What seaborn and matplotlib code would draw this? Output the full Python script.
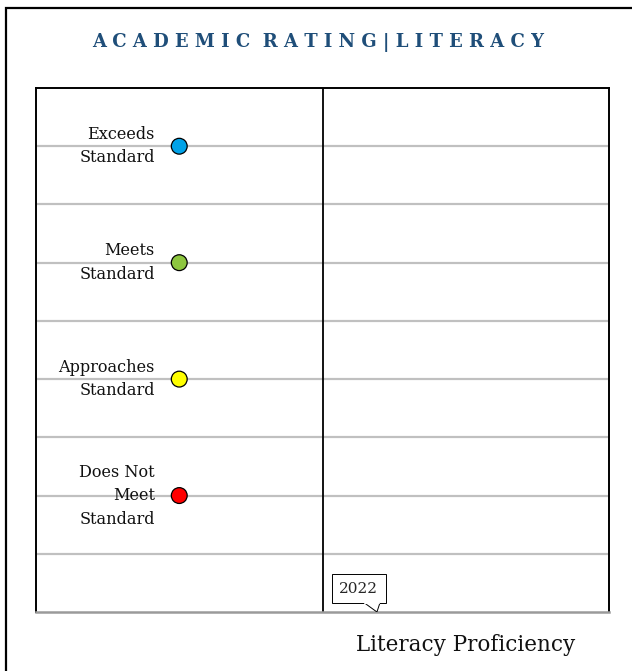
import matplotlib
matplotlib.use("Agg")
import matplotlib.pyplot as plt
from matplotlib.patches import Rectangle, Polygon
import seaborn as sns
import pandas as pd

# rating levels and where they sit on the scale
ratings = ["Exceeds\nStandard", "Meets\nStandard", "Approaches\nStandard", "Does Not\nMeet\nStandard"]
rating_level = [8, 6, 4, 2]
rating_colors = ["#00A2E8", "#8DC63F", "#FFFF00", "#FF0000"]
rating_x = [0.5, 0.5, 0.5, 0.5]
year_label = "2022"

sns.set_theme(style="white")
plt.rcParams["font.family"] = ["DejaVu Serif"]

df = pd.DataFrame({"Rating": ratings, "Level": rating_level, "x": rating_x})

fig = plt.figure(figsize=(6.32, 6.71), dpi=100)
ax = fig.add_axes([36 / 632, 59 / 671, 573 / 632, 524 / 671])

# horizontal guide lines
for yy in range(1, 9):
    ax.axhline(yy, color="#C0C0C0", lw=1.6, zorder=0)
ax.axvline(1, color="black", lw=1.3, zorder=1)

sns.scatterplot(data=df, x="x", y="Level", hue="Rating", palette=rating_colors,
                s=130, edgecolor="black", linewidth=0.9, legend=False, ax=ax, zorder=3)

for lab, lv in zip(ratings, rating_level):
    ax.text(0.415, lv, lab, ha="right", va="center", fontsize=11.6,
            linespacing=1.5, color="#111111")

ax.set_xlim(0, 2)
ax.set_ylim(0, 9)
ax.set_xticks([])
ax.set_yticks([])
ax.set_xlabel("")
ax.set_ylabel("")
for sp in ["left", "right", "top"]:
    ax.spines[sp].set_color("black")
    ax.spines[sp].set_linewidth(1.4)
ax.spines["bottom"].set_color("#9A9A9A")
ax.spines["bottom"].set_linewidth(1.8)

# year callout
ax.text(1.127, 0.40, year_label, ha="center", va="center", fontsize=11,
        bbox=dict(boxstyle="square,pad=0.5", fc="white", ec="black", lw=0.7), zorder=4)
ax.add_patch(Polygon([[1.148, 0.15], [1.19, 0.0], [1.2, 0.15]], closed=True,
                     fc="white", ec="black", lw=0.7, zorder=5))
ax.plot([1.150, 1.198], [0.155, 0.155], color="white", lw=1.5, zorder=6)

fig.text(466 / 632, 1 - 645 / 671, "Literacy Proficiency", ha="center", va="center",
         fontsize=15.5, color="#111111")

fig.text(318 / 632, 1 - 43 / 671, "A C A D E M I C  R A T I N G | L I T E R A C Y",
         ha="center", va="center", fontsize=13, fontweight="bold", color="#1F4E79")

# outer frame
fig.patches.append(Rectangle((6 / 632, -0.2), 1.5, 0.2 + (671 - 8) / 671,
                             transform=fig.transFigure, fill=False, ec="black", lw=1.6))

fig.savefig("out.png", dpi=100)
